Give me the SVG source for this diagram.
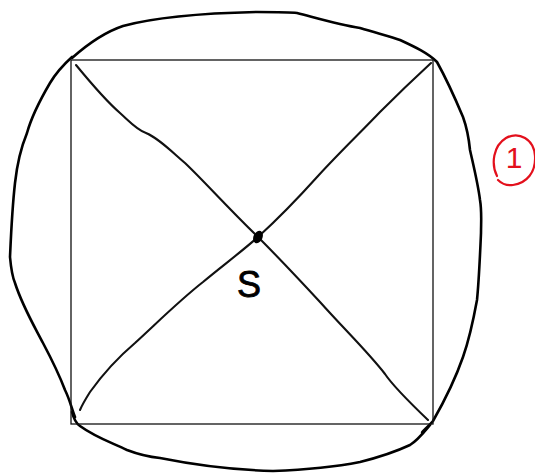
<svg xmlns="http://www.w3.org/2000/svg" width="535" height="473" viewBox="0 0 535 473">
<style>
.blob{fill:none;stroke:#000;stroke-width:2.6;stroke-linecap:round;stroke-linejoin:round}
.diag{fill:none;stroke:#111;stroke-width:2.1;stroke-linecap:round;stroke-linejoin:round}
.sq{fill:none;stroke:#111;stroke-width:1.3}
.red{fill:none;stroke:#e3101c;stroke-width:2.2;stroke-linecap:round}
</style>
<rect width="535" height="473" fill="#fff"/>
<g id="outline">
<path class="blob" d="M72,58 C90,42 105,32 123,26 C160,16 210,13 257,12 C280,12 290,12 297,13 C320,19 340,25 360,28 C380,34 392,37 400,40 C415,47 428,53 437,62 C447,80 455,98 463,117 C467,128 469,140 470,150 C474,168 478,184 480,200 C482,212 481,222 481,233 C480,256 479,280 477,300 C473,322 469,340 463,357 C455,380 445,400 433,421 C425,430 420,433 423,433"/>
<path class="blob" d="M72,57 C62,66 56,73 50,83 C40,100 32,115 27,133 C20,150 17,165 15,183 C12,210 11,235 10,257 C11,268 12,276 15,283 C22,305 32,322 43,343 C52,360 59,374 65,390 C70,400 72,410 75,417"/>
<path class="blob" d="M72,412 C74,420 77,424 80,426 C95,437 110,442 127,450 C140,455 150,457 160,458 C195,465 235,470 273,471 C300,470 330,468 360,462 C380,457 395,452 410,445 C418,440 424,432 430,425"/>
</g>
<g id="square">
<rect class="sq" x="71" y="60" width="362" height="364"/>
</g>
<g id="connectors">
<path class="diag" d="M76,65 C90,82 105,100 120,113 C130,122 137,130 146,133 C158,138 170,150 185,163 C205,182 225,205 258,237 C275,254 295,275 320,302 C345,330 368,352 385,374 C393,386 405,398 428,420"/>
<path class="diag" d="M431,63 C418,75 400,92 380,112 C360,133 340,152 318,176 C300,196 280,217 258,237 C240,253 222,266 203,282 C180,300 160,320 135,343 C115,360 100,378 90,392 C85,400 82,405 80,410"/>
</g>
<g id="S">
<ellipse cx="258" cy="237" rx="4.5" ry="6.5" transform="rotate(25 258 237)" fill="#000"/>
<text x="249" y="297" font-family="'Liberation Sans', Arial, sans-serif" font-size="36" text-anchor="middle" fill="#000" stroke="#000" stroke-width="0.8">S</text>
</g>
<g id="label1">
<path class="red" d="M497,176 C491,164 493,146 506,138 C519,131 534,139 535,156 C536,172 527,183 513,185 C506,186 501,183 498,180"/>
<text x="514" y="168" font-family="'Liberation Sans', Arial, sans-serif" font-size="30" text-anchor="middle" fill="#e3101c">1</text>
</g>
</svg>
